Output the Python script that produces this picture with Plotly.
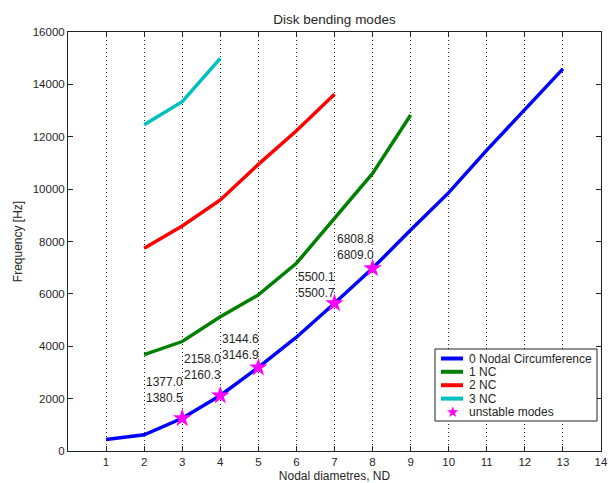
import plotly.graph_objects as go

# ---- data ----
nd0 = [1, 2, 3, 4, 5, 6, 7, 8, 9, 10, 11, 12, 13]
f0 = [440, 620, 1250, 2120, 3190, 4345, 5640, 6975, 8440, 9865, 11490, 13020, 14590]
nd1 = [2, 3, 4, 5, 6, 7, 8, 9]
f1 = [3680, 4180, 5130, 5960, 7170, 8885, 10600, 12830]
nd2 = [2, 3, 4, 5, 6, 7]
f2 = [7740, 8590, 9585, 10945, 12230, 13620]
nd3 = [2, 3, 4]
f3 = [12460, 13340, 14995]
unstable_nd = [3, 4, 5, 7, 8]
unstable_f = [1250, 2120, 3190, 5640, 6975]
label_top = ["1377.0", "2158.0", "3144.6", "5500.1", "6808.8"]
label_bot = ["1380.5", "2160.3", "3146.9", "5500.7", "6809.0"]
label_x = [2, 3, 4, 6, 7]
label_y = [2330, 3190, 3990, 6340, 7790]
x_ticks = list(range(1, 15))

series_names = ["0 Nodal Circumference", "1 NC", "2 NC", "3 NC"]
unstable_name = "unstable modes"
colors = ["#0000ff", "#008000", "#ff0000", "#00bfbf"]
star_color = "#ff00ff"

FONT = "Liberation Sans, Arial, sans-serif"
TXT = "#262626"
W, H = 611, 483
ML, MR, MT, MB = 68, 10, 32, 32
PW, PH = W - ML - MR, H - MT - MB


def px_x(px):
    return (px - ML) / PW


def px_y(py):
    return (H - MB - py) / PH


fig = go.Figure()
for xs, ys, name, c in zip([nd0, nd1, nd2, nd3], [f0, f1, f2, f3], series_names, colors):
    fig.add_trace(go.Scatter(x=xs, y=ys, mode="lines", name=name,
                             line=dict(color=c, width=3.5)))
fig.add_trace(go.Scatter(x=unstable_nd, y=unstable_f, mode="markers", name=unstable_name,
                         marker=dict(symbol="star", size=14, color=star_color,
                                     line=dict(width=0))))

for lx, ly, t, b in zip(label_x, label_y, label_top, label_bot):
    fig.add_annotation(x=lx, y=ly, text=f"{t}<br>{b}", showarrow=False,
                       xanchor="left", yanchor="middle", align="left", xshift=0,
                       font=dict(family=FONT, size=12, color=TXT))

# ---- legend box drawn MATLAB-style ----
shapes = [dict(type="rect", xref="paper", yref="paper",
               x0=px_x(435), x1=px_x(597), y0=px_y(421), y1=px_y(349),
               line=dict(color="#222", width=1), fillcolor="white", layer="above")]
annotations = []
row_y = [358.5, 371.8, 385.2, 398.6, 412.0]
for name, c, ry in zip(series_names, colors, row_y):
    shapes.append(dict(type="line", xref="paper", yref="paper",
                       x0=px_x(441), x1=px_x(463), y0=px_y(ry), y1=px_y(ry),
                       line=dict(color=c, width=4), layer="above"))
    annotations.append(dict(xref="paper", yref="paper", x=px_x(467), y=px_y(ry),
                            text=name, showarrow=False, xanchor="left", yanchor="middle",
                            font=dict(family=FONT, size=12, color=TXT)))
annotations.append(dict(xref="paper", yref="paper", x=px_x(452), y=px_y(row_y[-1]),
                        text="★", showarrow=False, xanchor="center", yanchor="middle",
                        font=dict(family="DejaVu Sans", size=15, color=star_color)))
annotations.append(dict(xref="paper", yref="paper", x=px_x(467), y=px_y(row_y[-1]),
                        text=unstable_name, showarrow=False, xanchor="left",
                        yanchor="middle", font=dict(family=FONT, size=12, color=TXT)))
for s in shapes:
    fig.add_shape(**s)
for a in annotations:
    fig.add_annotation(**a)

fig.update_layout(
    width=W, height=H,
    margin=dict(l=ML, r=MR, t=MT, b=MB, autoexpand=False),
    paper_bgcolor="white", plot_bgcolor="white",
    font=dict(family=FONT, size=11.5, color=TXT),
    title=dict(text="Disk bending modes", x=0.5, xref="paper", xanchor="center",
               y=1 - 19 / H, yref="container", yanchor="middle",
               font=dict(family=FONT, size=13.5, color=TXT)),
    showlegend=False,
)

fig.update_xaxes(range=[0, 14], tickvals=x_ticks, ticks="inside", ticklen=5,
                 tickcolor="#222", showline=True, linecolor="#222", linewidth=1,
                 mirror="ticks", showgrid=True, gridcolor="#222", griddash="1px,3px",
                 gridwidth=1, zeroline=False, tickfont=dict(size=11.5),
                 title=dict(text="Nodal diametres, ND", standoff=4,
                            font=dict(family=FONT, size=12, color=TXT)))
fig.update_yaxes(range=[0, 16000], dtick=2000, tickformat="d", ticks="inside", ticklen=5,
                 tickcolor="#222", showline=True, linecolor="#222", linewidth=1,
                 mirror="ticks", showgrid=False, zeroline=False, tickfont=dict(size=11.5),
                 title=dict(text="Frequency [Hz]", standoff=7,
                            font=dict(family=FONT, size=12, color=TXT)))

fig.write_html("out.html", config={"displayModeBar": False},
               post_script="document.body.style.margin='0';document.body.style.overflow='hidden';")
